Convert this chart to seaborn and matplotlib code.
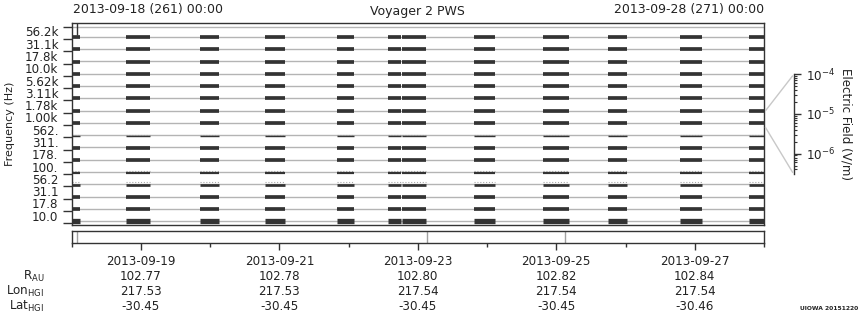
import numpy as np
import pandas as pd
import matplotlib
matplotlib.use("Agg")
import matplotlib.pyplot as plt
from matplotlib.patches import ConnectionPatch
import matplotlib.transforms as mtransforms
import seaborn as sns

# ---------------- data ----------------
channels = ["10.0", "17.8", "31.1", "56.2", "100.", "178.", "311.", "562.",
            "1.00k", "1.78k", "3.11k", "5.62k", "10.0k", "17.8k", "31.1k", "56.2k"]
# data segments, days since 2013-09-18 00:00
seg_start = [0.00, 0.784, 1.853, 2.792, 3.832, 4.569, 4.771, 5.811, 6.808, 7.747, 8.787, 9.784]
seg_end = [0.12, 1.131, 2.128, 3.081, 4.078, 4.757, 5.118, 6.115, 7.184, 8.021, 9.105, 10.0]
faint_channels = ["562.", "100.", "56.2"]
marker_days = [0.07, 5.13, 7.13]

tick_days = [1, 3, 5, 7, 9]
tick_dates = ["2013-09-19", "2013-09-21", "2013-09-23", "2013-09-25", "2013-09-27"]
r_au = ["102.77", "102.78", "102.80", "102.82", "102.84"]
lon_hgi = ["217.53", "217.53", "217.54", "217.54", "217.54"]
lat_hgi = ["-30.45", "-30.45", "-30.45", "-30.45", "-30.46"]
row_names = [r"R$_{\mathregular{AU}}$", r"Lon$_{\mathregular{HGI}}$", r"Lat$_{\mathregular{HGI}}$"]

title_left = "2013-09-18 (261) 00:00"
title_right = "2013-09-28 (271) 00:00"
title_mid = "Voyager 2 PWS"
ndays = 10

# ---------------- style ----------------
sns.set_style("ticks")
plt.rcParams["font.family"] = ["DejaVu Sans"]
DARK = "#333333"
TXT = "#222222"
PX = 72 / 100.0  # points per pixel
thick_px = {c: 3.7 for c in channels}
thick_px.update({"10.0": 5.3, "562.": 1.4, "100.": 2.2, "56.2": 2.7})
bin_px = 12.29

fig = plt.figure(figsize=(8.6, 3.2), dpi=100)
W, H = 860.0, 320.0
L, R = 71.7, 764.0
ax = fig.add_axes([L / W, 1 - 225 / H, (R - L) / W, (225 - 23) / H])

# bars as thick line segments
rows = []
for ci, ch in enumerate(channels):
    yc = ci + thick_px[ch] / 2 / bin_px + 0.01
    for si, (s, e) in enumerate(zip(seg_start, seg_end)):
        for t in (s, e):
            rows.append({"t": t, "y": yc, "uid": f"{ch}_{si}", "chan": ch})
df = pd.DataFrame(rows)

# grey channel lines
ax.hlines([i + 0.17 for i in range(len(channels))] + [len(channels)], 0, ndays,
          color="#b4b4b4", lw=1.0, zorder=1)

sns.lineplot(data=df, x="t", y="y", units="uid", estimator=None, size="chan",
             sizes={c: thick_px[c] * PX for c in channels}, color=DARK,
             sort=False, legend=False, ax=ax, solid_capstyle="butt", zorder=3)

# faint specks above some channels
for ci, ch in enumerate(channels):
    if ch in faint_channels:
        yf = ci + thick_px[ch] / bin_px + 0.1
        for s, e in zip(seg_start, seg_end):
            ax.plot([s, e], [yf, yf], color="#a8a8a8", lw=0.8, ls=(0, (1, 1.6)), zorder=2)

ax.vlines(marker_days[0], 15.3, 16.3, color=DARK, lw=1.0, zorder=4)

ax.set_xlim(0, ndays)
ax.set_ylim(-0.14, 16.3)
ax.set_xlabel("")
ax.set_xticks([])
ax.set_yticks(range(len(channels) + 1))
ax.set_yticklabels([])
ax.set_yticks([i + 0.62 for i in range(len(channels))], minor=True)
ax.set_yticklabels(channels, minor=True, fontsize=8.6, color=TXT)
ax.tick_params(axis="y", which="major", length=6.5, width=1.0, color=DARK, direction="out")
ax.tick_params(axis="y", which="minor", length=0, pad=9.6)
for sp in ax.spines.values():
    sp.set_visible(True)
    sp.set_color(DARK)
    sp.set_linewidth(1.0)
ax.set_ylabel("Frequency (Hz)", fontsize=8, color=TXT)
ax.yaxis.set_label_coords(-0.082, 0.5)

fig.text(72.7 / W, 1 - 9.5 / H, title_left, ha="left", va="center", fontsize=9, color=TXT)
fig.text(R / W, 1 - 9.5 / H, title_right, ha="right", va="center", fontsize=9, color=TXT)
fig.text((L + R) / 2 / W, 1 - 11 / H, title_mid, ha="center", va="center", fontsize=9, color=TXT)

# bottom strip with time axis
sax = fig.add_axes([L / W, 1 - 242.7 / H, (R - L) / W, 11.7 / H])
sax.set_xlim(0, ndays)
sax.set_ylim(0, 1)
sax.set_yticks([])
for d in marker_days:
    sax.axvline(d, color="#a0a0a0", lw=1.0)
for sp in sax.spines.values():
    sp.set_visible(True)
    sp.set_color(DARK)
    sp.set_linewidth(1.0)
sax.set_xticks(tick_days)
sax.set_xticklabels(tick_dates, fontsize=8.6, color=TXT)
sax.set_xticks([d for d in range(ndays + 1) if d not in tick_days], minor=True)
sax.tick_params(axis="x", which="major", length=5.2, width=1.0, color=DARK, pad=4)
sax.tick_params(axis="x", which="minor", length=2.9, width=1.0, color=DARK)

trans = mtransforms.blended_transform_factory(sax.transData, fig.transFigure)
for vals, ypix in zip([r_au, lon_hgi, lat_hgi], [276.7, 291.7, 306.7]):
    for d, v in zip(tick_days, vals):
        sax.text(d, 1 - ypix / H, v, transform=trans, ha="center", va="center",
                 fontsize=8.6, color=TXT)
for name, ypix in zip(row_names, [276.7, 291.7, 306.7]):
    fig.text(44 / W, 1 - ypix / H, name, ha="right", va="center", fontsize=8.6, color=TXT)

fig.text(858 / W, 1 - 309 / H, "UIOWA 20151220", ha="right", va="center",
         fontsize=4.3, fontweight="bold", color=TXT)

# electric field scale
cax = fig.add_axes([793.8 / W, 1 - 174.3 / H, 0.5 / W, 100 / H])
cax.set_yscale("log")
cax.set_ylim(10 ** -6.52, 1e-4)
cax.set_xticks([])
for k in ("left", "top", "bottom"):
    cax.spines[k].set_visible(False)
cax.spines["right"].set_visible(True)
cax.spines["right"].set_color(DARK)
cax.spines["right"].set_linewidth(1.0)
cax.yaxis.set_ticks_position("right")
cax.set_yticks([1e-6, 1e-5, 1e-4])
cax.tick_params(axis="y", which="major", length=5, width=1.0, color=DARK, pad=3.2,
                labelsize=8.6, labelcolor=TXT, direction="out")
cax.tick_params(axis="y", which="minor", length=2.5, width=0.8, color=DARK, direction="out")
cax.patch.set_alpha(0)
fig.text(846 / W, 1 - 124 / H, "Electric Field (V/m)", rotation=270, ha="center",
         va="center", fontsize=8.6, color=TXT)

ich = channels.index("1.00k")
for yA, yB in [(ich + 1, 1.0), (ich, 0.0)]:
    con = ConnectionPatch(xyA=(ndays, yA), coordsA=ax.transData,
                          xyB=(0, yB), coordsB=cax.transAxes,
                          color="#c8c8c8", lw=1.0, shrinkA=2, shrinkB=1.5)
    fig.add_artist(con)

fig.savefig("out.png", dpi=100)
